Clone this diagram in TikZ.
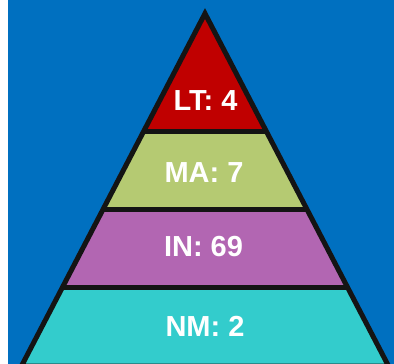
\documentclass[tikz,border=0pt]{standalone}
\usepackage{fontspec}
\setmainfont{Liberation Sans}
\definecolor{bgblue}{RGB}{0,112,192}
\definecolor{ltred}{RGB}{192,0,0}
\definecolor{magreen}{RGB}{181,202,114}
\definecolor{inpurple}{RGB}{178,102,178}
\definecolor{nmcyan}{RGB}{51,204,204}
\definecolor{edgeblack}{RGB}{20,20,20}
\begin{document}
\begin{tikzpicture}[x=1pt,y=-1pt]
{\bfseries\fontsize{29}{31}\selectfont
\useasboundingbox (0,0) rectangle (394,364);%

% Background
\fill [white] (0,0) rectangle (394,364);%
\fill [bgblue] (7.5,0) rectangle (394,364);%

% Filling band LT
\fill [ltred] (205,13.5) -- (266.4,131.5) -- (143.6,131.5) -- cycle;%

% Filling band MA
\fill [magreen] (143.6,131.5) -- (266.4,131.5) -- (307.1,209.5) -- (102.9,209.5) -- cycle;%

% Filling band IN
\fill [inpurple] (102.9,209.5) -- (307.1,209.5) -- (347.7,287.5) -- (62.3,287.5) -- cycle;%

% Filling band NM
\fill [nmcyan] (62.3,287.5) -- (347.7,287.5) -- (388.5,366) -- (21.5,366) -- cycle;%

% Drawing band borders
\draw [edgeblack, line width=5pt] (143.6,131.5) -- (266.4,131.5);%
\draw [edgeblack, line width=5pt] (102.9,209.5) -- (307.1,209.5);%
\draw [edgeblack, line width=5pt] (62.3,287.5) -- (347.7,287.5);%

% Drawing pyramid outline
\draw [edgeblack, line width=5pt, miter limit=20] (205,13.5) -- (388.5,366) -- (21.5,366) -- cycle;%

% Labels
\node [white, inner sep=0pt] (txtLT) at (205.5,100.5) {LT: 4};%
\node [white, inner sep=0pt] (txtMA) at (204,173) {MA: 7};%
\node [white, inner sep=0pt] (txtIN) at (203.5,246.5) {IN: 69};%
\node [white, inner sep=0pt] (txtNM) at (205,326) {NM: 2};%
}
\end{tikzpicture}
\end{document}
